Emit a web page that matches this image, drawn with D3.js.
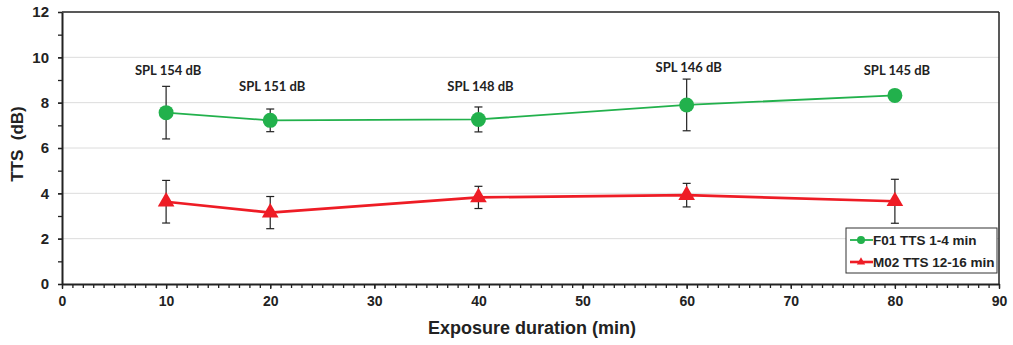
<!DOCTYPE html>
<html>
<head>
<meta charset="utf-8">
<script src="https://cdn.jsdelivr.net/npm/d3@7"></script>
<style>
  body { margin: 0; background: #fff; }
  svg text { font-family: "Liberation Sans", Arial, sans-serif; font-weight: bold; fill: #222; white-space: pre; }
  .spl { font-family: Lato, "Open Sans", sans-serif; font-size: 13px; }
</style>
</head>
<body>
<svg id="chart" width="1013" height="345"></svg>
<script>
// exposure durations (min)
const durations = [10, 20, 40, 60, 80];
// F01 TTS 1-4 min
const f01Mean = [7.56, 7.22, 7.26, 7.9, 8.32];
const f01Err = [1.16, 0.5, 0.55, 1.14, 0];
// M02 TTS 12-16 min
const m02Mean = [3.63, 3.15, 3.82, 3.92, 3.65];
const m02Err = [0.94, 0.71, 0.49, 0.52, 0.97];
// SPL annotations
const splLabels = ['SPL 154 dB', 'SPL 151 dB', 'SPL 148 dB', 'SPL 146 dB', 'SPL 145 dB'];
const splLevels = [9.2, 8.5, 8.5, 9.34, 9.2];
const yTicks = [0, 2, 4, 6, 8, 10, 12];
const xTicks = [0, 10, 20, 30, 40, 50, 60, 70, 80, 90];
const seriesNames = ['F01 TTS 1-4 min', 'M02 TTS 12-16 min'];

const green = '#22b14c';
const red = '#ee1c25';

const margin = { left: 62, top: 12, right: 14, bottom: 61 };
const width = 1013 - margin.left - margin.right;
const height = 345 - margin.top - margin.bottom;

const svg = d3.select('#chart');
const g = svg.append('g')
  .attr('transform', 'translate(' + margin.left + ',' + margin.top + ')');

const x = d3.scaleLinear().domain([0, 90]).range([0, width]);
const y = d3.scaleLinear().domain([0, 12]).range([height, 0]);

// gridlines
g.append('g')
  .selectAll('line')
  .data(yTicks.filter(d => d > 0 && d < 12))
  .enter()
  .append('line')
  .attr('x1', 0).attr('x2', width)
  .attr('y1', d => y(d)).attr('y2', d => y(d))
  .attr('stroke', '#dcdcdc').attr('stroke-width', 1);

// frame top/right
g.append('line').attr('x1', 0).attr('x2', width).attr('y1', 0).attr('y2', 0)
  .attr('stroke', '#222').attr('stroke-width', 1.5);
g.append('line').attr('x1', width).attr('x2', width).attr('y1', 0).attr('y2', height)
  .attr('stroke', '#222').attr('stroke-width', 1.5);

// x axis with minor ticks
const xMinor = g.append('g')
  .attr('transform', 'translate(0,' + height + ')')
  .call(d3.axisBottom(x).ticks(90).tickSize(4).tickFormat(''));
xMinor.select('.domain').remove();
xMinor.selectAll('line').attr('stroke', '#222').attr('stroke-width', 1.3);

const xAxis = g.append('g')
  .attr('transform', 'translate(0,' + height + ')')
  .call(d3.axisBottom(x).tickValues(xTicks).tickSize(5).tickPadding(7).tickSizeOuter(0));
xAxis.select('.domain').attr('stroke', '#222').attr('stroke-width', 2);
xAxis.selectAll('line').attr('stroke', '#222').attr('stroke-width', 1.3);
xAxis.selectAll('text').style('font-size', '14px').attr('fill', '#222');

// y axis with minor ticks
const yMinor = g.append('g')
  .call(d3.axisLeft(y).ticks(12).tickSize(4).tickFormat(''));
yMinor.select('.domain').remove();
yMinor.selectAll('line').attr('stroke', '#222').attr('stroke-width', 1.3);

const yAxis = g.append('g')
  .call(d3.axisLeft(y).tickValues(yTicks).tickSize(4).tickPadding(9).tickSizeOuter(0));
yAxis.select('.domain').attr('stroke', '#222').attr('stroke-width', 2);
yAxis.selectAll('line').attr('stroke', '#222').attr('stroke-width', 1.3);
yAxis.selectAll('text').style('font-size', '15px').attr('fill', '#222');

// axis titles
svg.append('text')
  .attr('x', 532)
  .attr('y', 334)
  .attr('text-anchor', 'middle')
  .style('font-size', '18px')
  .text('Exposure duration (min)');

svg.append('text')
  .attr('transform', 'translate(23,144) rotate(-90)')
  .attr('text-anchor', 'middle')
  .style('font-size', '17px')
  .text('TTS  (dB)');

const f01 = durations.map((d, i) => ({ x: d, y: f01Mean[i], e: f01Err[i] }));
const m02 = durations.map((d, i) => ({ x: d, y: m02Mean[i], e: m02Err[i] }));

function errorBars(data) {
  const eb = g.append('g').selectAll('g')
    .data(data.filter(d => d.e > 0))
    .enter().append('g')
    .attr('stroke', '#222').attr('stroke-width', 1.2);
  eb.append('line')
    .attr('x1', d => x(d.x)).attr('x2', d => x(d.x))
    .attr('y1', d => y(d.y + d.e)).attr('y2', d => y(d.y - d.e));
  eb.append('line')
    .attr('x1', d => x(d.x) - 4).attr('x2', d => x(d.x) + 4)
    .attr('y1', d => y(d.y + d.e)).attr('y2', d => y(d.y + d.e));
  eb.append('line')
    .attr('x1', d => x(d.x) - 4).attr('x2', d => x(d.x) + 4)
    .attr('y1', d => y(d.y - d.e)).attr('y2', d => y(d.y - d.e));
}
errorBars(f01);
errorBars(m02);

const line = d3.line().x(d => x(d.x)).y(d => y(d.y));

g.append('path').datum(f01)
  .attr('d', line).attr('fill', 'none')
  .attr('stroke', green).attr('stroke-width', 1.8);
g.append('path').datum(m02)
  .attr('d', line).attr('fill', 'none')
  .attr('stroke', red).attr('stroke-width', 2.6);

g.selectAll('circle.f01')
  .data(f01)
  .enter().append('circle')
  .attr('class', 'f01')
  .attr('cx', d => x(d.x)).attr('cy', d => y(d.y))
  .attr('r', 7.5).attr('fill', green);

const tri = d3.symbol().type(d3.symbolTriangle).size(120);
g.selectAll('path.m02')
  .data(m02)
  .enter().append('path')
  .attr('class', 'm02')
  .attr('transform', d => 'translate(' + x(d.x) + ',' + y(d.y) + ')')
  .attr('d', tri).attr('fill', red);

// SPL labels
g.selectAll('text.spl')
  .data(durations)
  .enter().append('text')
  .attr('class', 'spl')
  .attr('x', (d, i) => x(d) + 2)
  .attr('y', (d, i) => y(splLevels[i]))
  .attr('text-anchor', 'middle')
  .text((d, i) => splLabels[i]);

// legend
const lg = svg.append('g').attr('transform', 'translate(846,228)');
lg.append('rect')
  .attr('width', 151).attr('height', 45)
  .attr('fill', '#fff').attr('stroke', '#333').attr('stroke-width', 1);
const colors = [green, red];
seriesNames.forEach((name, i) => {
  const row = lg.append('g').attr('transform', 'translate(0,' + (12 + i * 22) + ')');
  row.append('line').attr('x1', 4).attr('x2', 27).attr('y1', 0).attr('y2', 0)
    .attr('stroke', colors[i]).attr('stroke-width', i === 0 ? 1.8 : 2.6);
  if (i === 0) {
    row.append('circle').attr('cx', 15).attr('cy', 0).attr('r', 4).attr('fill', green);
  } else {
    row.append('path').attr('transform', 'translate(15,0)')
      .attr('d', d3.symbol().type(d3.symbolTriangle).size(30)).attr('fill', red);
  }
  row.append('text')
    .attr('x', 27).attr('y', 5)
    .style('font-size', '13.5px')
    .text(name);
});
</script>
</body>
</html>
